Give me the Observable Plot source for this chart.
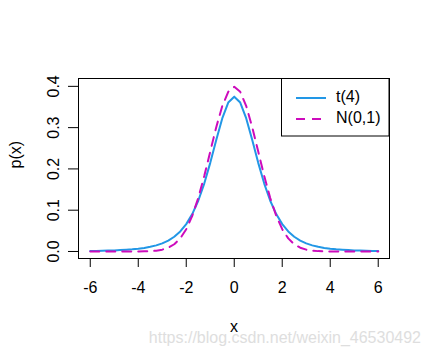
<!DOCTYPE html>
<html>
<head>
<meta charset="utf-8">
<script src="https://cdn.jsdelivr.net/npm/d3@7"></script>
<script src="https://cdn.jsdelivr.net/npm/@observablehq/plot@0.6"></script>
<style>
  html, body { margin: 0; padding: 0; background: white; }
  #wrap { position: relative; width: 430px; height: 356px; overflow: hidden; font-family: "Liberation Sans", Arial, sans-serif; }
  #overlay { position: absolute; left: 0; top: 0; pointer-events: none; }
</style>
</head>
<body>
<div id="wrap"></div>
<script>
// ---- data ----
const xs = [-6,-5.75,-5.5,-5.25,-5,-4.75,-4.5,-4.25,-4,-3.75,-3.5,-3.25,-3,-2.75,-2.5,-2.25,-2,-1.75,-1.5,-1.25,-1,-0.75,-0.5,-0.25,0,
            0.25,0.5,0.75,1,1.25,1.5,1.75,2,2.25,2.5,2.75,3,3.25,3.5,3.75,4,4.25,4.5,4.75,5,5.25,5.5,5.75,6];
const tVals = [0.00119,0.00144,0.00175,0.00215,0.00265,0.00330,0.00414,0.00525,0.00671,0.00865,0.01127,0.01483,0.01969,0.02639,0.03567,0.04854,0.06629,0.09053,0.12288,0.16444,0.21466,0.26989,0.32226,0.36074,0.375,
               0.36074,0.32226,0.26989,0.21466,0.16444,0.12288,0.09053,0.06629,0.04854,0.03567,0.02639,0.01969,0.01483,0.01127,0.00865,0.00671,0.00525,0.00414,0.00330,0.00265,0.00215,0.00175,0.00144,0.00119];
const nVals = [0,0,0,0,0,0.00001,0.00002,0.00005,0.00013,0.00035,0.00087,0.00203,0.00443,0.00909,0.01753,0.03174,0.05399,0.08628,0.12952,0.18265,0.24197,0.30114,0.35207,0.38667,0.39894,
               0.38667,0.35207,0.30114,0.24197,0.18265,0.12952,0.08628,0.05399,0.03174,0.01753,0.00909,0.00443,0.00203,0.00087,0.00035,0.00013,0.00005,0.00002,0.00001,0,0,0,0,0];
const xTicks = [-6,-4,-2,0,2,4,6];
const yTicks = [0.0,0.1,0.2,0.3,0.4];
const seriesNames = ["t(4)", "N(0,1)"];
const colors = ["#2297E6", "#CD0BBC"];
const xLabel = "x";
const yLabel = "p(x)";
const watermark = "https://blog.csdn.net/weixin_46530492";

const tData = xs.map((x, i) => ({x, y: tVals[i]}));
const nData = xs.map((x, i) => ({x, y: nVals[i]}));

const chart = Plot.plot({
  width: 430,
  height: 356,
  marginLeft: 78,
  marginRight: 41,
  marginTop: 78,
  marginBottom: 98,
  style: {fontFamily: "'Liberation Sans', Arial, sans-serif", fontSize: "16px", background: "white", color: "black", overflow: "visible"},
  x: {domain: [-6.49, 6.47]},
  y: {domain: [-0.017, 0.419]},
  marks: [
    Plot.line(tData, {x: "x", y: "y", stroke: colors[0], strokeWidth: 2}),
    Plot.line(nData, {x: "x", y: "y", stroke: colors[1], strokeWidth: 2, strokeDasharray: "9,7"}),
    Plot.frame({stroke: "black", strokeWidth: 1}),
    Plot.axisX({ticks: xTicks, tickSize: 9, tickPadding: 14, tickFormat: d => String(d), fontSize: 16, label: null}),
    Plot.axisY({ticks: yTicks, tickSize: 10, tickPadding: 10, tickRotate: -90, tickFormat: d => d.toFixed(1), fontSize: 16, label: null}),
    Plot.text([xLabel], {text: d => d, frameAnchor: "bottom", dy: 68, lineAnchor: "middle", fontSize: 16, fill: "black"}),
    Plot.text([yLabel], {text: d => d, frameAnchor: "left", dx: -63, rotate: -90, lineAnchor: "middle", fontSize: 16, fill: "black"})
  ]
});
const wrap = document.getElementById("wrap");
wrap.appendChild(chart);

// legend + watermark overlay
const ns = "http://www.w3.org/2000/svg";
const ov = document.createElementNS(ns, "svg");
ov.setAttribute("id", "overlay");
ov.setAttribute("width", 430);
ov.setAttribute("height", 356);
function el(tag, attrs, text) {
  const e = document.createElementNS(ns, tag);
  for (const k in attrs) if (attrs[k] != null) e.setAttribute(k, attrs[k]);
  if (text != null) e.textContent = text;
  ov.appendChild(e);
  return e;
}
el("rect", {x: 281.5, y: 78.5, width: 107.5, height: 57.5, fill: "white", stroke: "black", "stroke-width": 1});
const rows = [98, 119];
seriesNames.forEach((name, i) => {
  el("line", {x1: 296, x2: 326, y1: rows[i], y2: rows[i], stroke: colors[i], "stroke-width": 2,
              "stroke-dasharray": i === 1 ? "9,7" : null});
  el("text", {x: 336, y: rows[i] + 4, "font-size": 16, "font-family": "'Liberation Sans', Arial, sans-serif", fill: "black"}, name);
});
el("text", {x: 421, y: 343, "text-anchor": "end", "font-size": 16, "font-family": "'Liberation Sans', Arial, sans-serif",
            fill: "#dedede"}, watermark);
wrap.appendChild(ov);
</script>
</body>
</html>
